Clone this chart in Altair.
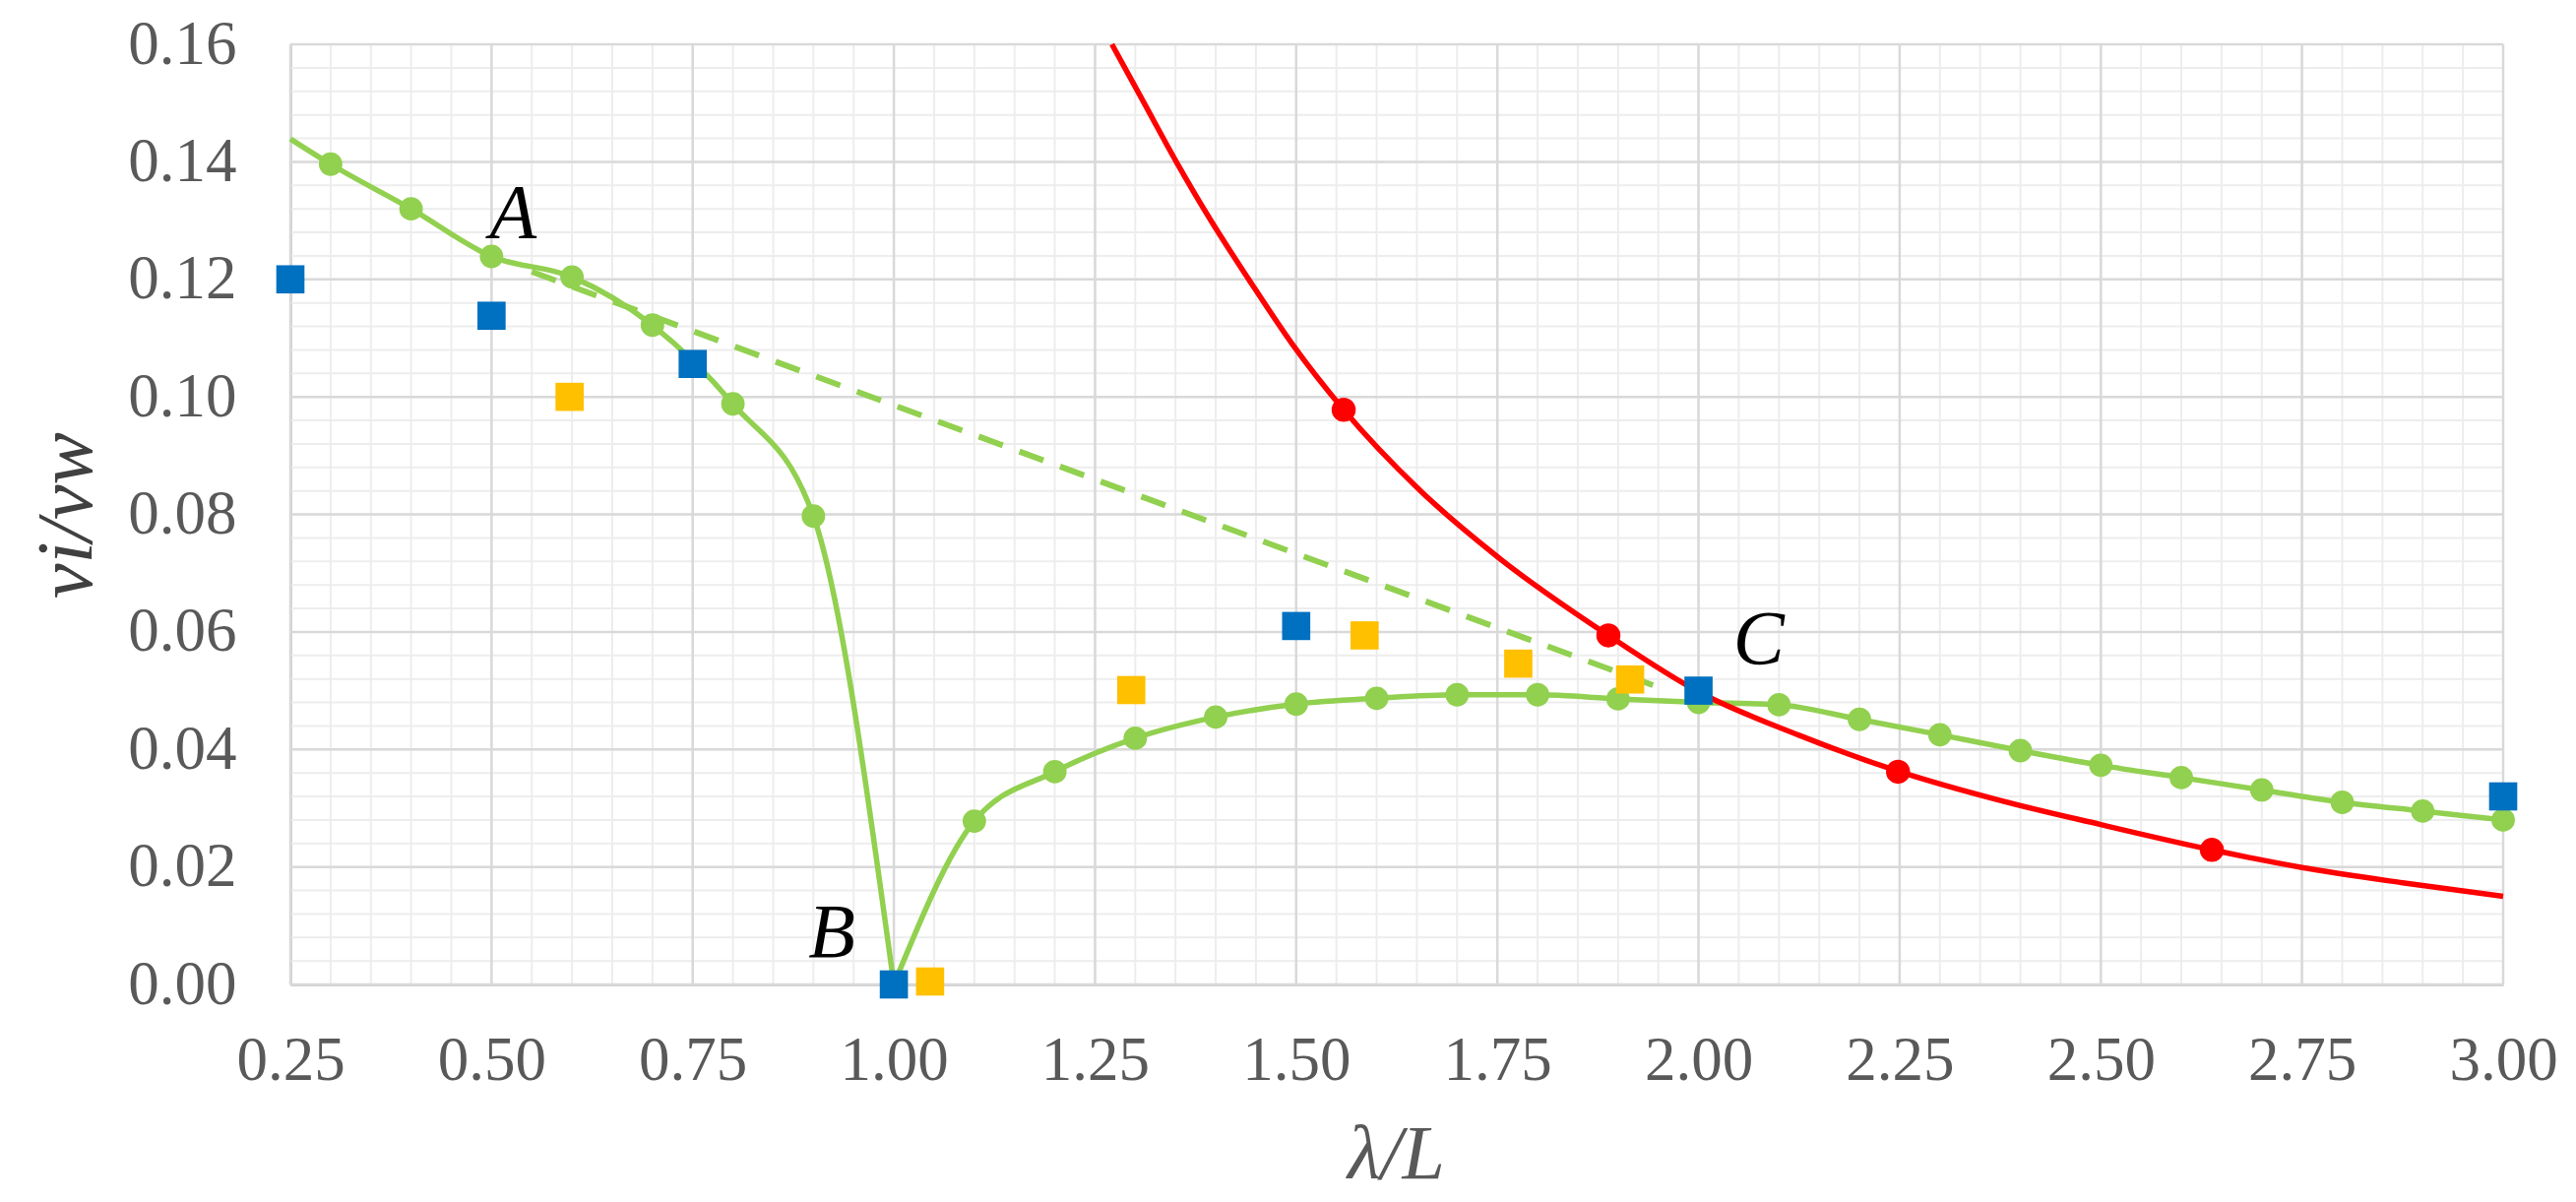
import altair as alt
import pandas as pd

# ---------------- data ----------------
X_TICKS = [0.25, 0.50, 0.75, 1.00, 1.25, 1.50, 1.75, 2.00, 2.25, 2.50, 2.75, 3.00]
Y_TICKS = [0.00, 0.02, 0.04, 0.06, 0.08, 0.10, 0.12, 0.14, 0.16]

# green curve, upper branch (A -> B)
green_up_x = [0.25, 0.3, 0.4, 0.5, 0.6, 0.7, 0.8, 0.9, 1.0]
green_up_y = [0.1439, 0.1396, 0.1320, 0.1239, 0.1204, 0.1122, 0.0988, 0.0797, 0.0]

# green curve, lower branch (B -> C -> 3.0)
green_lo_x = [1.0, 1.1, 1.2, 1.3, 1.4, 1.5, 1.6, 1.7, 1.8, 1.9, 2.0,
              2.1, 2.2, 2.3, 2.4, 2.5, 2.6, 2.7, 2.8, 2.9, 3.0]
green_lo_y = [0.0, 0.0278, 0.0362, 0.0419, 0.0455, 0.0477, 0.0487, 0.0493, 0.0493, 0.0486, 0.0480,
              0.0476, 0.0451, 0.0425, 0.0398, 0.0373, 0.0352, 0.0331, 0.0310, 0.0295, 0.0280]

# green dashed line A -> C
dash_x = [0.55, 1.95]
dash_y = [0.1213, 0.0506]

# red curve
red_line_x = [1.271, 1.311, 1.351, 1.394, 1.441, 1.495, 1.559, 1.653, 1.75, 1.888,
              2.0, 2.125, 2.25, 2.375, 2.5, 2.638, 2.75, 2.875, 3.0]
red_line_y = [0.160, 0.150, 0.140, 0.130, 0.120, 0.109, 0.0978, 0.0842, 0.0728, 0.0594,
              0.0498, 0.0424, 0.0362, 0.0313, 0.0272, 0.0229, 0.0199, 0.0173, 0.0150]
red_pt_x = [1.559, 1.888, 2.248, 2.638]
red_pt_y = [0.0978, 0.0594, 0.0362, 0.0229]

# blue squares
blue_x = [0.25, 0.50, 0.75, 1.00, 1.50, 2.00, 3.00]
blue_y = [0.1200, 0.1138, 0.1056, 0.0000, 0.0610, 0.0500, 0.0320]

# orange squares
orange_x = [0.597, 1.045, 1.295, 1.585, 1.776, 1.915]
orange_y = [0.1000, 0.0005, 0.0501, 0.0594, 0.0546, 0.0519]

# point labels
lab_text = ["A", "B", "C"]
lab_x = [0.527, 0.923, 2.075]
lab_y = [0.131, 0.0085, 0.0585]

# ---------------- styling ----------------
FONT = "Liberation Serif"
GREEN = "#92D050"
RED = "#FF0000"
BLUE = "#0070C0"
ORANGE = "#FFC000"
TXT = "#595959"

x_minor = [round(0.25 + 0.05 * i, 4) for i in range(56)]
y_minor = [round(0.004 * i, 4) for i in range(41)]

xs = alt.Scale(domain=[0.25, 3.0], nice=False, zero=False)
ys = alt.Scale(domain=[0.0, 0.16], nice=False)

x_axis = alt.Axis(
    values=X_TICKS, format=".2f", grid=False, ticks=False,
    domainColor="#BFBFBF", domainWidth=2.5,
    labelFont=FONT, labelFontSize=63, labelColor=TXT, labelPadding=46,
    labelFlush=False, labelOverlap=False,
    title="λ/L", titleFont=FONT, titleFontSize=78, titleFontStyle="italic",
    titleFontWeight="normal", titleColor=TXT,
    titleX=1123, titleY=196, titleBaseline="alphabetic", titleAlign="center",
)
y_axis = alt.Axis(
    values=Y_TICKS, format=".2f", grid=False, ticks=False,
    domainColor="#BFBFBF", domainWidth=2.5,
    labelFont=FONT, labelFontSize=63, labelColor=TXT, labelPadding=55,
    labelFlush=False, labelOverlap=False,
    title="vi/vw", titleFont=FONT, titleFontSize=80, titleFontStyle="italic",
    titleFontWeight="normal", titleColor="#404040",
    titleAngle=-90, titleX=-203, titleY=478, titleBaseline="alphabetic", titleAlign="center",
)

def X():
    return alt.X("x:Q", scale=xs, axis=x_axis)

def Y():
    return alt.Y("y:Q", scale=ys, axis=y_axis)

minor_v = alt.Chart(pd.DataFrame({"x": x_minor})).mark_rule(color="#EDEDED", strokeWidth=2).encode(x=X())
minor_h = alt.Chart(pd.DataFrame({"y": y_minor})).mark_rule(color="#EDEDED", strokeWidth=2).encode(y=Y())
major_v = alt.Chart(pd.DataFrame({"x": X_TICKS})).mark_rule(color="#D9D9D9", strokeWidth=2.5).encode(x=X())
major_h = alt.Chart(pd.DataFrame({"y": Y_TICKS})).mark_rule(color="#D9D9D9", strokeWidth=2.5).encode(y=Y())

dashed = alt.Chart(pd.DataFrame({"x": dash_x, "y": dash_y})).mark_line(
    color=GREEN, strokeWidth=6, strokeDash=[26, 18]).encode(x=X(), y=Y())
green_up = alt.Chart(pd.DataFrame({"x": green_up_x, "y": green_up_y})).mark_line(
    color=GREEN, strokeWidth=5.5, interpolate="monotone").encode(x=X(), y=Y())
green_lo = alt.Chart(pd.DataFrame({"x": green_lo_x, "y": green_lo_y})).mark_line(
    color=GREEN, strokeWidth=5.5, interpolate="monotone").encode(x=X(), y=Y())
green_pts = alt.Chart(pd.DataFrame({"x": green_up_x[1:] + green_lo_x[1:],
                                    "y": green_up_y[1:] + green_lo_y[1:]})).mark_circle(
    color=GREEN, size=570, opacity=1).encode(x=X(), y=Y())

red_line = alt.Chart(pd.DataFrame({"x": red_line_x, "y": red_line_y})).mark_line(
    color=RED, strokeWidth=5.5, interpolate="monotone").encode(x=X(), y=Y())
red_pts = alt.Chart(pd.DataFrame({"x": red_pt_x, "y": red_pt_y})).mark_circle(
    color=RED, size=600, opacity=1).encode(x=X(), y=Y())

orange = alt.Chart(pd.DataFrame({"x": orange_x, "y": orange_y})).mark_point(
    shape="square", filled=True, color=ORANGE, size=820, opacity=1).encode(x=X(), y=Y())
blue = alt.Chart(pd.DataFrame({"x": blue_x, "y": blue_y})).mark_point(
    shape="square", filled=True, color=BLUE, size=820, opacity=1).encode(x=X(), y=Y())

labels = alt.Chart(pd.DataFrame({"x": lab_x, "y": lab_y, "t": lab_text})).mark_text(
    font=FONT, fontSize=78, fontStyle="italic", color="black", align="center", baseline="middle"
).encode(x=X(), y=Y(), text="t:N")

chart = alt.layer(
    minor_v, minor_h, major_v, major_h,
    dashed, green_up, green_lo, green_pts,
    red_line, red_pts, orange, blue, labels,
).properties(
    width=2248, height=955,
    padding={"left": 287, "top": 37, "right": 60, "bottom": 218},
    autosize=alt.AutoSizeParams(type="none"),
    background="white",
).configure_view(stroke=None)

chart.save("out.html", embed_options={"renderer": "svg", "actions": False})
